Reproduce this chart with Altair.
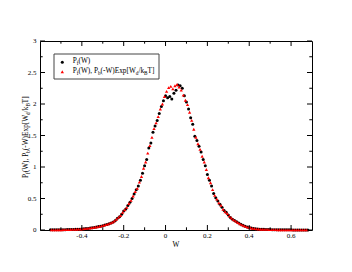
import altair as alt
import pandas as pd

# ---- data ----
w_black = [-0.55,-0.54,-0.53,-0.52,-0.51,-0.50,-0.49,-0.48,-0.47,-0.46,-0.45,-0.44,-0.43,-0.42,-0.41,
           -0.40,-0.39,-0.38,-0.37,-0.36,-0.35,-0.34,-0.33,-0.32,-0.31,-0.30,-0.29,-0.28,-0.27,-0.26,
           -0.25,-0.24,-0.23,-0.22,-0.21,-0.20,-0.19,-0.18,-0.17,-0.16,-0.15,-0.14,-0.13,-0.12,-0.11,
           -0.10,-0.09,-0.08,-0.07,-0.06,-0.05,-0.04,-0.03,-0.02,-0.01,0.00,0.01,0.02,0.03,0.04,
           0.05,0.06,0.07,0.08,0.09,0.10,0.11,0.12,0.13,0.14,0.15,0.16,0.17,0.18,0.19,
           0.20,0.21,0.22,0.23,0.24,0.25,0.26,0.27,0.28,0.29,0.30,0.31,0.32,0.33,0.34,
           0.35,0.36,0.37,0.38,0.39,0.40,0.41,0.42,0.43,0.44,0.45,0.46,0.47,0.48,0.49,
           0.50,0.51,0.52,0.53,0.54,0.55,0.56,0.57,0.58,0.59,0.60,0.61,0.62,0.63,0.64,
           0.65,0.66,0.67,0.68]
p_black = [0.003,0.002,0.003,0.004,0.003,0.004,0.005,0.004,0.006,0.006,0.008,0.009,0.010,0.012,0.013,
           0.016,0.018,0.022,0.025,0.030,0.034,0.040,0.046,0.055,0.060,0.068,0.078,0.086,0.100,0.112,
           0.128,0.150,0.185,0.210,0.250,0.300,0.335,0.390,0.440,0.500,0.570,0.640,0.700,0.790,0.900,
           1.020,1.120,1.300,1.380,1.550,1.650,1.740,1.850,1.960,2.050,2.130,2.100,2.120,2.080,2.170,
           2.220,2.300,2.290,2.250,2.130,2.030,1.920,1.780,1.680,1.490,1.420,1.330,1.240,1.120,1.020,
           0.880,0.790,0.700,0.580,0.510,0.460,0.410,0.360,0.310,0.280,0.240,0.200,0.170,0.150,0.130,
           0.110,0.090,0.075,0.060,0.048,0.040,0.030,0.024,0.020,0.016,0.013,0.011,0.010,0.009,0.008,
           0.006,0.005,0.005,0.004,0.004,0.003,0.003,0.002,0.002,0.002,0.002,0.001,0.001,0.001,0.001,
           0.001,0.001,0.000,0.000]

w_red = [-0.545,-0.535,-0.525,-0.515,-0.505,-0.495,-0.485,-0.475,-0.465,-0.455,-0.445,-0.435,-0.425,-0.415,-0.405,
         -0.395,-0.385,-0.375,-0.365,-0.355,-0.345,-0.335,-0.325,-0.315,-0.305,-0.295,-0.285,-0.275,-0.265,-0.255,
         -0.245,-0.235,-0.225,-0.215,-0.205,-0.195,-0.185,-0.175,-0.165,-0.155,-0.145,-0.135,-0.125,-0.115,-0.105,
         -0.095,-0.085,-0.075,-0.065,-0.055,-0.045,-0.035,-0.025,-0.015,-0.005,0.005,0.015,0.025,0.035,0.045,
         0.055,0.065,0.075,0.085,0.095,0.105,0.115,0.125,0.135,0.145,0.155,0.165,0.175,0.185,0.195,
         0.205,0.215,0.225,0.235,0.245,0.255,0.265,0.275,0.285,0.295,0.305,0.315,0.325,0.335,0.345,
         0.355,0.365,0.375,0.385,0.395,0.405,0.415,0.425,0.435,0.445,0.455,0.465,0.475,0.485,0.495,
         0.505,0.515,0.525,0.535,0.545,0.555,0.565,0.575,0.585,0.595,0.605,0.615,0.625,0.635,0.645,
         0.655,0.665,0.675]
p_red = [0.003,0.003,0.003,0.004,0.004,0.004,0.005,0.006,0.006,0.007,0.009,0.010,0.012,0.014,0.016,
         0.019,0.022,0.026,0.030,0.036,0.040,0.048,0.052,0.060,0.066,0.075,0.085,0.096,0.110,0.122,
         0.140,0.170,0.200,0.230,0.280,0.320,0.360,0.420,0.470,0.540,0.610,0.660,0.760,0.850,0.980,
         1.080,1.220,1.340,1.470,1.610,1.700,1.800,1.920,2.000,2.120,2.200,2.260,2.280,2.240,2.290,
         2.310,2.270,2.220,2.140,2.060,1.990,1.870,1.740,1.600,1.470,1.370,1.280,1.170,1.080,0.960,
         0.830,0.750,0.640,0.550,0.490,0.430,0.390,0.330,0.290,0.260,0.220,0.190,0.160,0.140,0.120,
         0.100,0.082,0.068,0.054,0.044,0.035,0.028,0.022,0.018,0.015,0.012,0.011,0.010,0.009,0.007,
         0.006,0.005,0.005,0.004,0.004,0.003,0.003,0.002,0.002,0.002,0.002,0.001,0.001,0.001,0.001,
         0.001,0.001,0.001]

x_major = [-0.4, -0.2, 0, 0.2, 0.4, 0.6]
x_major_text = ["-0.4", "-0.2", "0", "0.2", "0.4", "0.6"]
y_major = [0, 0.5, 1, 1.5, 2, 2.5, 3]
y_major_text = ["0", "0.5", "1", "1.5", "2", "2.5", "3"]
x_minor = [-0.5, -0.3, -0.1, 0.1, 0.3, 0.5]
y_minor = [0.25, 0.75, 1.25, 1.75, 2.25, 2.75]

# ---- layout ----
W, H = 272, 189
FONT = "Liberation Serif"
MAJ, MIN = 5, 2.7
LFS = 7

xs = alt.Scale(domain=[-0.6, 0.7], nice=False, zero=False)
ys = alt.Scale(domain=[0, 3], nice=False, zero=False)

black = pd.DataFrame({"W": w_black, "P": p_black})
red = pd.DataFrame({"W": w_red, "P": p_red})

def X(field="W"):
    return alt.X(f"{field}:Q", scale=xs, axis=None)

def Y(field="P"):
    return alt.Y(f"{field}:Q", scale=ys, axis=None)

pts_black = alt.Chart(black).mark_point(filled=True, shape="circle", size=9, color="black",
                                        opacity=1).encode(x=X(), y=Y())
pts_red = alt.Chart(red).mark_point(filled=True, shape="triangle-up", size=11, color="#ff0000",
                                    opacity=1).encode(x=X(), y=Y())

# tick marks (inward, all four sides)
def xticks(vals, length):
    d = pd.DataFrame({"W": vals})
    b = alt.Chart(d).mark_rule(color="black", strokeWidth=1, opacity=1).encode(
        x=X(), y=alt.value(H), y2=alt.value(H - length))
    t = alt.Chart(d).mark_rule(color="black", strokeWidth=1, opacity=1).encode(
        x=X(), y=alt.value(0), y2=alt.value(length))
    return [b, t]

def yticks(vals, length):
    d = pd.DataFrame({"P": vals})
    l = alt.Chart(d).mark_rule(color="black", strokeWidth=1, opacity=1).encode(
        y=Y(), x=alt.value(0), x2=alt.value(length))
    r = alt.Chart(d).mark_rule(color="black", strokeWidth=1, opacity=1).encode(
        y=Y(), x=alt.value(W), x2=alt.value(W - length))
    return [l, r]

ticks = xticks(x_major, MAJ) + xticks(x_minor, MIN) + yticks(y_major, MAJ) + yticks(y_minor, MIN)

# tick labels
xlab = alt.Chart(pd.DataFrame({"W": x_major, "t": x_major_text})).mark_text(
    font=FONT, fontSize=LFS, color="black", align="center", baseline="alphabetic"
).encode(x=X(), y=alt.value(H + 8), text="t:N")
ylab = alt.Chart(pd.DataFrame({"P": y_major, "t": y_major_text})).mark_text(
    font=FONT, fontSize=LFS, color="black", align="right", baseline="middle"
).encode(y=Y(), x=alt.value(-3.5), text="t:N")

# text layout with subscripts (Times metrics)
CW = {"P": .556, "(": .333, "W": .944, ")": .333, ",": .25, " ": .25, "-": .333, "E": .611,
      "x": .5, "p": .5, "[": .333, "/": .278, "k": .5, "T": .611, "]": .333, "f": .333,
      "b": .5, "d": .5, "B": .667}

def layout(segs, x0, y0, main=7.3, sub=5.2, drop=2.0, vertical=False):
    rows, pos = [], 0.0
    for txt, is_sub in segs:
        fs = sub if is_sub else main
        if vertical:
            rows.append({"px": x0 + (drop if is_sub else 0), "py": y0 - pos, "txt": txt, "fs": fs})
        else:
            rows.append({"px": x0 + pos, "py": y0 + (drop if is_sub else 0), "txt": txt, "fs": fs})
        pos += sum(CW.get(c, 0.5) for c in txt) * fs
    return rows

label2 = [("P", 0), ("f", 1), ("(W), P", 0), ("b", 1), ("(-W)Exp[W", 0), ("d", 1),
          ("/k", 0), ("B", 1), ("T]", 0)]
label1 = [("P", 0), ("f", 1), ("(W)", 0)]

h_rows = layout(label1, 32.7, 22.3) + layout(label2, 32.7, 31.8) + [
    {"px": 132.5, "py": 205.5, "txt": "W", "fs": 7.3}]
v_rows = layout(label2, -12.5, 137, vertical=True)

def text_layer(rows, angle):
    return alt.Chart(pd.DataFrame(rows)).mark_text(
        font=FONT, color="black", align="left", baseline="alphabetic", angle=angle
    ).encode(x=alt.X("px:Q", scale=None, axis=None), y=alt.Y("py:Q", scale=None, axis=None),
             size=alt.Size("fs:Q", scale=None, legend=None), text="txt:N")

htext = text_layer(h_rows, 0)
vtext = text_layer(v_rows, 270)

one = pd.DataFrame({"k": [0]})
legend_box = alt.Chart(one).mark_rect(fill="white", stroke="#444", strokeWidth=1).encode(
    x=alt.value(14), x2=alt.value(119), y=alt.value(13), y2=alt.value(38))
leg_b = alt.Chart(one).mark_point(filled=True, shape="circle", size=9, color="black", opacity=1).encode(
    x=alt.value(22.3), y=alt.value(21.3))
leg_r = alt.Chart(one).mark_point(filled=True, shape="triangle-up", size=11, color="#ff0000", opacity=1).encode(
    x=alt.value(22.3), y=alt.value(30.7))

chart = alt.layer(pts_black, pts_red, *ticks, xlab, ylab, legend_box, leg_b, leg_r, htext, vtext).properties(
    width=W, height=H,
    autosize=alt.AutoSizeParams(type="none"),
    padding={"left": 32, "top": 33, "right": 32, "bottom": 34},
    background="white",
).configure_view(stroke="black", strokeWidth=1)

chart.save("out.html", embed_options={"renderer": "svg", "actions": False})
